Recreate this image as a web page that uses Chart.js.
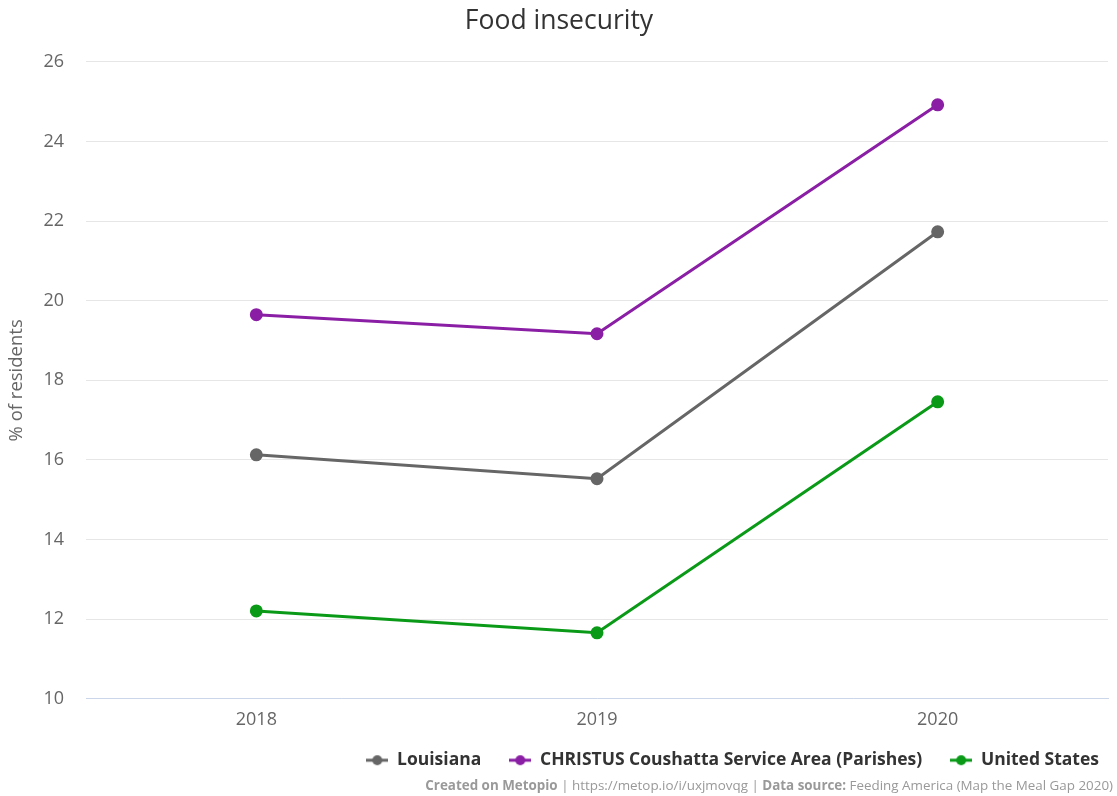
<!DOCTYPE html>
<html>
<head>
<meta charset="utf-8">
<script src="https://cdn.jsdelivr.net/npm/chart.js@4.4.1/dist/chart.umd.min.js"></script>
<style>
  body { margin: 0; background: #fff; }
  #wrap { position: relative; width: 1117px; height: 796px; }
  #chartBox { position: absolute; left: 0; top: 0; width: 1117px; height: 796px; }
  #credits {
    position: absolute; right: 4px; top: 776px;
    font: 13.4px "Open Sans", sans-serif; color: #999; white-space: nowrap;
  }
  #credits b { font-weight: 700; }
</style>
</head>
<body>
<div id="wrap">
  <div id="chartBox"><canvas id="chart"></canvas></div>
  <div id="credits"><b>Created on Metopio</b> | https://metop.io/i/uxjmovqg | <b>Data source:</b> Feeding America (Map the Meal Gap 2020)</div>
</div>
<script>
const years = ['2018', '2019', '2020'];
const louisiana = [16.13, 15.53, 21.73];
const christus = [19.65, 19.17, 24.92];
const unitedStates = [12.21, 11.66, 17.46];
const yTicks = [10, 12, 14, 16, 18, 20, 22, 24, 26];

const colors = { louisiana: '#666666', christus: '#8a1ea4', us: '#0a9a18' };

function legendIcon(color) {
    const c = document.createElement('canvas');
    c.width = 22; c.height = 12;
    const g = c.getContext('2d');
    g.strokeStyle = color; g.lineWidth = 3;
    g.beginPath(); g.moveTo(0, 6); g.lineTo(22, 6); g.stroke();
    g.fillStyle = color;
    g.beginPath(); g.arc(11, 6, 5, 0, Math.PI * 2); g.fill();
    return c;
}

function series(label, data, color) {
    return {
        label: label,
        data: data,
        borderColor: color,
        backgroundColor: color,
        borderWidth: 3,
        pointRadius: 5,
        pointHoverRadius: 6,
        tension: 0,
        icon: legendIcon(color)
    };
}

// move the legend up over the credits line and a bit to the right
const legendShift = {
    id: 'legendShift',
    afterLayout(chart) {
        const lg = chart.legend;
        lg.left += 15;
        lg.right += 15;
        lg.top -= 17;
        lg.bottom -= 17;
    }
};

const ctx = document.getElementById('chart').getContext('2d');
new Chart(ctx, {
    type: 'line',
    data: {
        labels: years,
        datasets: [
            series('Louisiana', louisiana, colors.louisiana),
            series('CHRISTUS Coushatta Service Area (Parishes)', christus, colors.christus),
            series('United States', unitedStates, colors.us)
        ]
    },
    plugins: [legendShift],
    options: {
        responsive: true,
        maintainAspectRatio: false,
        animation: false,
        layout: { padding: { left: 6, right: 5, top: 0, bottom: 0 } },
        plugins: {
            title: {
                display: true,
                text: 'Food insecurity',
                color: '#333333',
                font: { family: 'Open Sans', size: 26.5, weight: 'normal' },
                padding: { top: 6, bottom: 24 }
            },
            legend: {
                position: 'bottom',
                align: 'end',
                labels: {
                    color: '#333333',
                    font: { family: 'Open Sans', size: 17.5, weight: 'bold' },
                    usePointStyle: true,
                    pointStyleWidth: 22,
                    padding: 28,
                    generateLabels(chart) {
                        return chart.data.datasets.map((ds, i) => ({
                            text: ds.label,
                            fillStyle: ds.borderColor,
                            strokeStyle: ds.borderColor,
                            fontColor: '#333333',
                            lineWidth: 0,
                            pointStyle: ds.icon,
                            datasetIndex: i,
                            hidden: !chart.isDatasetVisible(i)
                        }));
                    }
                }
            },
            tooltip: { enabled: false }
        },
        scales: {
            x: {
                offset: true,
                afterFit(axis) { axis.paddingLeft = 0; axis.paddingRight = 0; },
                grid: { display: false, drawTicks: false },
                border: { color: '#ccd6eb', width: 1 },
                ticks: { color: '#666666', font: { family: 'Open Sans', size: 18 }, padding: 10 }
            },
            y: {
                min: 10,
                max: 26,
                afterBuildTicks(axis) { axis.ticks = yTicks.map(v => ({ value: v })); },
                afterFit(axis) { axis.width = 80; },
                grid: { color: '#e6e6e6', drawTicks: false },
                border: { display: false },
                ticks: { color: '#666666', font: { family: 'Open Sans', size: 18 }, padding: 22 },
                title: {
                    display: true,
                    text: '% of residents',
                    color: '#666666',
                    font: { family: 'Open Sans', size: 18.5 },
                    padding: { top: 0, bottom: 4 }
                }
            }
        }
    }
});
</script>
</body>
</html>
